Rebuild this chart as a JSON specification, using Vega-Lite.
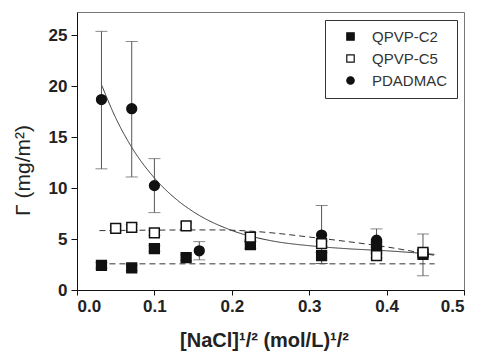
{
  "$schema": "https://vega.github.io/schema/vega-lite/v6.json",
  "width": 387,
  "height": 278,
  "autosize": {"type": "none"},
  "padding": {"left": 77, "top": 12, "right": 13, "bottom": 61},
  "background": "white",
  "config": {
    "view": {"stroke": "#777", "strokeWidth": 1},
    "font": "Liberation Sans"
  },
  "datasets": {
    "pts": [
      {"series": "PDADMAC", "x": 0.0316, "y": 18.7, "lo": 11.9, "hi": 25.4},
      {"series": "PDADMAC", "x": 0.0707, "y": 17.8, "lo": 11.1, "hi": 24.4},
      {"series": "PDADMAC", "x": 0.1, "y": 10.25, "lo": 7.6, "hi": 12.9},
      {"series": "PDADMAC", "x": 0.158, "y": 3.85, "lo": 2.96, "hi": 4.75},
      {"series": "PDADMAC", "x": 0.316, "y": 5.4, "lo": 2.6, "hi": 8.3},
      {"series": "PDADMAC", "x": 0.387, "y": 4.9, "lo": 3.8, "hi": 6.0},
      {"series": "PDADMAC", "x": 0.447, "y": 3.5, "lo": 1.4, "hi": 5.5},
      {"series": "QPVP-C2", "x": 0.0316, "y": 2.43, "lo": 2.15, "hi": 2.7},
      {"series": "QPVP-C2", "x": 0.0707, "y": 2.17, "lo": 1.9, "hi": 2.45},
      {"series": "QPVP-C2", "x": 0.1, "y": 4.07, "lo": 3.8, "hi": 4.35},
      {"series": "QPVP-C2", "x": 0.141, "y": 3.19, "lo": 2.9, "hi": 3.45},
      {"series": "QPVP-C2", "x": 0.224, "y": 4.46, "lo": 4.1, "hi": 4.8},
      {"series": "QPVP-C2", "x": 0.316, "y": 3.38, "lo": 2.6, "hi": 3.7},
      {"series": "QPVP-C2", "x": 0.387, "y": 4.45, "lo": 4.2, "hi": 4.7},
      {"series": "QPVP-C2", "x": 0.447, "y": 3.5, "lo": 3.3, "hi": 3.7},
      {"series": "QPVP-C5", "x": 0.05, "y": 6.06, "lo": 5.8, "hi": 6.3},
      {"series": "QPVP-C5", "x": 0.0707, "y": 6.16, "lo": 5.85, "hi": 6.45},
      {"series": "QPVP-C5", "x": 0.1, "y": 5.6, "lo": 5.35, "hi": 5.85},
      {"series": "QPVP-C5", "x": 0.141, "y": 6.3, "lo": 6.0, "hi": 6.6},
      {"series": "QPVP-C5", "x": 0.224, "y": 5.2, "lo": 4.75, "hi": 5.65},
      {"series": "QPVP-C5", "x": 0.316, "y": 4.56, "lo": 4.3, "hi": 4.8},
      {"series": "QPVP-C5", "x": 0.387, "y": 3.38, "lo": 3.15, "hi": 3.6},
      {"series": "QPVP-C5", "x": 0.447, "y": 3.7, "lo": 3.4, "hi": 4.0}
    ],
    "fits": [
      {"fit": "PDADMAC", "x": 0.032, "y": 20.1},
      {"fit": "PDADMAC", "x": 0.05, "y": 16.9},
      {"fit": "PDADMAC", "x": 0.07, "y": 14.1},
      {"fit": "PDADMAC", "x": 0.1, "y": 11.0},
      {"fit": "PDADMAC", "x": 0.13, "y": 8.8},
      {"fit": "PDADMAC", "x": 0.15, "y": 7.7},
      {"fit": "PDADMAC", "x": 0.2, "y": 5.85},
      {"fit": "PDADMAC", "x": 0.25, "y": 4.85},
      {"fit": "PDADMAC", "x": 0.3, "y": 4.35},
      {"fit": "PDADMAC", "x": 0.35, "y": 4.05},
      {"fit": "PDADMAC", "x": 0.4, "y": 3.85},
      {"fit": "PDADMAC", "x": 0.462, "y": 3.5},
      {"fit": "QPVP-C5", "x": 0.029, "y": 5.83},
      {"fit": "QPVP-C5", "x": 0.1, "y": 5.88},
      {"fit": "QPVP-C5", "x": 0.18, "y": 5.9},
      {"fit": "QPVP-C5", "x": 0.22, "y": 5.8},
      {"fit": "QPVP-C5", "x": 0.26, "y": 5.55},
      {"fit": "QPVP-C5", "x": 0.3, "y": 5.2},
      {"fit": "QPVP-C5", "x": 0.35, "y": 4.75},
      {"fit": "QPVP-C5", "x": 0.4, "y": 4.23},
      {"fit": "QPVP-C5", "x": 0.462, "y": 3.4},
      {"fit": "QPVP-C2", "x": 0.029, "y": 2.57},
      {"fit": "QPVP-C2", "x": 0.462, "y": 2.57}
    ]
  },
  "layer": [
    {
      "data": {"name": "fits"},
      "mark": {"type": "line", "interpolate": "monotone", "strokeWidth": 1, "color": "#333"},
      "encoding": {
        "x": {"field": "x", "type": "quantitative"},
        "y": {"field": "y", "type": "quantitative"},
        "detail": {"field": "fit"},
        "strokeDash": {
          "field": "fit", "type": "nominal", "legend": null,
          "scale": {"domain": ["PDADMAC", "QPVP-C5", "QPVP-C2"], "range": [[1, 0], [6, 4], [6, 4]]}
        }
      }
    },
    {
      "data": {"name": "pts"},
      "mark": {"type": "rule", "color": "#555", "strokeWidth": 1},
      "encoding": {
        "x": {"field": "x", "type": "quantitative"},
        "y": {"field": "lo", "type": "quantitative"},
        "y2": {"field": "hi"}
      }
    },
    {
      "data": {"name": "pts"},
      "mark": {"type": "tick", "orient": "horizontal", "size": 12, "thickness": 1, "color": "#555"},
      "encoding": {
        "x": {"field": "x", "type": "quantitative"},
        "y": {"field": "hi", "type": "quantitative"}
      }
    },
    {
      "data": {"name": "pts"},
      "mark": {"type": "tick", "orient": "horizontal", "size": 12, "thickness": 1, "color": "#555"},
      "encoding": {
        "x": {"field": "x", "type": "quantitative"},
        "y": {"field": "lo", "type": "quantitative"}
      }
    },
    {
      "data": {"name": "pts"},
      "mark": {"type": "point", "filled": false, "stroke": "#111", "strokeWidth": 1.5, "opacity": 1, "size": 95},
      "encoding": {
        "x": {
          "field": "x", "type": "quantitative",
          "scale": {"domain": [0, 0.5], "nice": false},
          "axis": {
            "values": [0, 0.05, 0.1, 0.15, 0.2, 0.25, 0.3, 0.35, 0.4, 0.45, 0.5],
            "labelExpr": "round(datum.value*20) % 2 === 0 ? format(datum.value, '.1f') : ''",
            "tickSize": {"condition": {"test": "round(datum.value*20) % 2 === 0", "value": 5}, "value": 3},
            "grid": false,
            "domainColor": "#111", "tickColor": "#111",
            "labelFont": "Liberation Sans", "labelFontWeight": "bold", "labelFontSize": 17, "labelColor": "#222",
            "labelPadding": 3,
            "title": "[NaCl]¹/² (mol/L)¹/²",
            "titleFont": "Liberation Sans", "titleFontWeight": "bold", "titleFontSize": 20, "titleColor": "#222",
            "titleBaseline": "alphabetic", "titleY": 56, "titleX": 187
          }
        },
        "y": {
          "field": "y", "type": "quantitative",
          "scale": {"domain": [0, 27.3], "nice": false},
          "axis": {
            "values": [0, 2.5, 5, 7.5, 10, 12.5, 15, 17.5, 20, 22.5, 25],
            "labelExpr": "datum.value % 5 === 0 ? datum.label : ''",
            "tickSize": {"condition": {"test": "datum.value % 5 === 0", "value": 6}, "value": 3},
            "grid": false,
            "domainColor": "#111", "tickColor": "#111",
            "labelFont": "Liberation Sans", "labelFontWeight": "bold", "labelFontSize": 17, "labelColor": "#222",
            "labelPadding": 4,
            "title": "Γ (mg/m²)",
            "titleFont": "Liberation Sans", "titleFontWeight": "normal", "titleFontSize": 21, "titleColor": "#222",
            "titleBaseline": "alphabetic", "titleX": -48, "titleY": 158
          }
        },
        "shape": {
          "field": "series", "type": "nominal",
          "scale": {"domain": ["QPVP-C2", "QPVP-C5", "PDADMAC"], "range": ["square", "square", "circle"]},
          "legend": {
            "title": null, "orient": "none", "legendX": 248, "legendY": 8,
            "strokeColor": "#333", "padding": 9, "fillColor": "white",
            "labelFont": "Liberation Sans", "labelFontSize": 15, "labelColor": "#333",
            "symbolSize": 55, "rowPadding": 6, "labelOffset": 14, "symbolOffset": 9, "symbolStrokeWidth": 1.2
          }
        },
        "fill": {
          "field": "series", "type": "nominal",
          "scale": {"domain": ["QPVP-C2", "QPVP-C5", "PDADMAC"], "range": ["#111", "white", "#111"]},
          "legend": {
            "title": null, "orient": "none", "legendX": 248, "legendY": 8,
            "strokeColor": "#333", "padding": 9, "fillColor": "white",
            "labelFont": "Liberation Sans", "labelFontSize": 15, "labelColor": "#333",
            "symbolSize": 55, "rowPadding": 6, "labelOffset": 14, "symbolOffset": 9, "symbolStrokeWidth": 1.2
          }
        },
        "order": {"field": "series", "sort": "ascending"}
      }
    }
  ]
}
